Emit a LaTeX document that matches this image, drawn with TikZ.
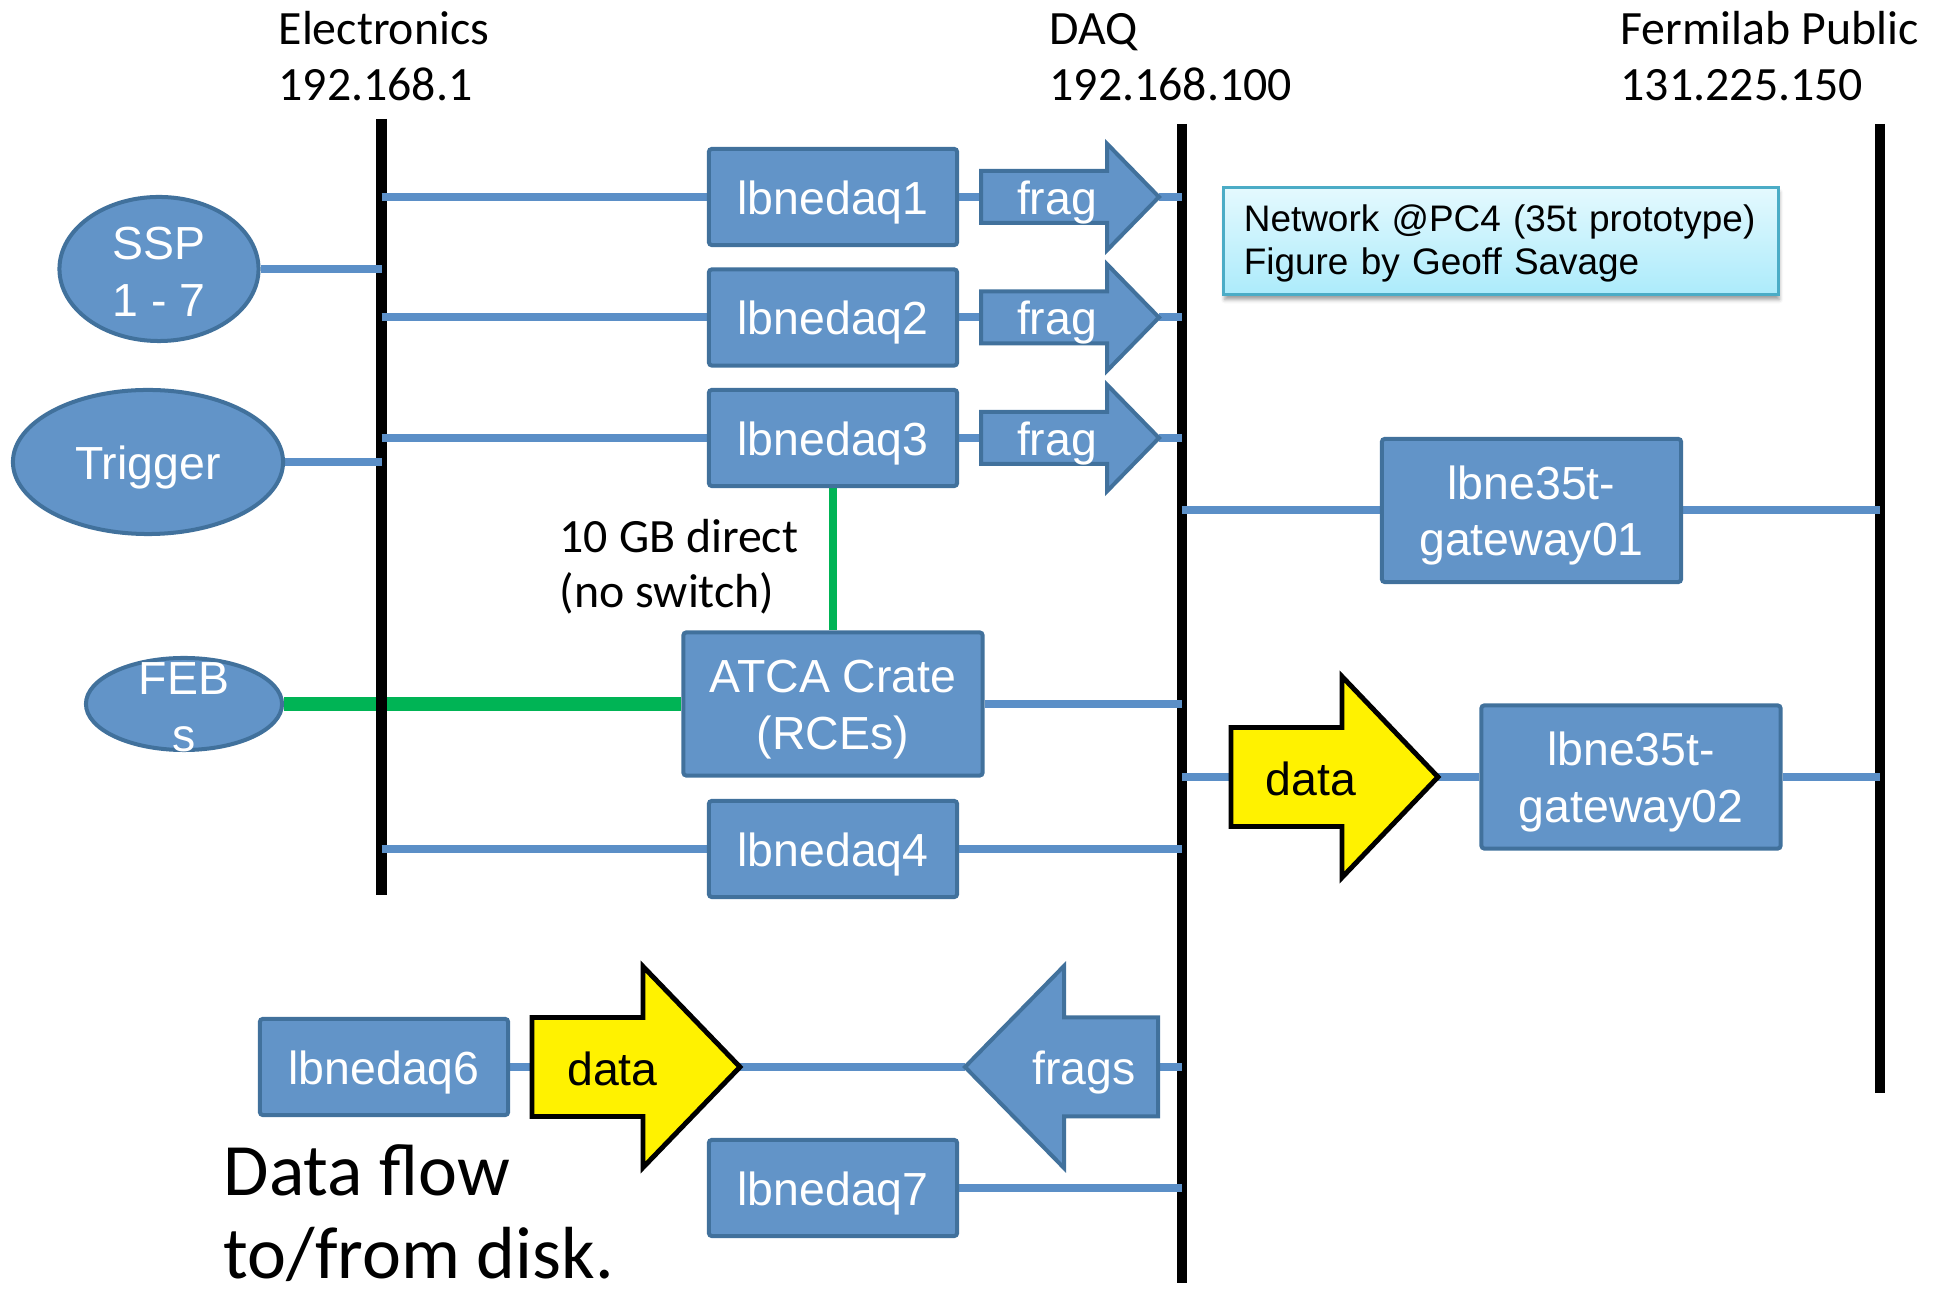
\documentclass[tikz,border=0pt]{standalone}
\usepackage{fontspec}
\setmainfont{Liberation Sans}
\newfontfamily\calfont{Carlito}
\usetikzlibrary{shapes.geometric,shadows.blur,backgrounds}
\definecolor{boxfill}{RGB}{98,148,200}
\definecolor{boxline}{RGB}{65,113,156}
\definecolor{linkblue}{RGB}{91,143,199}
\definecolor{lnkgreen}{RGB}{0,180,85}
\definecolor{notetop}{RGB}{228,249,254}
\definecolor{notebot}{RGB}{172,235,251}
\definecolor{noteline}{RGB}{75,172,198}
\newcommand{\ps}{\rule[-0.133em]{0pt}{1.083em}}
\newcommand{\pn}{\rule[-0.153em]{0pt}{1.003em}}
\newcommand{\bxfont}{\fontsize{13.2pt}{16.07pt}\selectfont}
\newcommand{\hdrfont}{\calfont\fontsize{13.6pt}{15.9pt}\selectfont}
\newcommand{\dffont}{\calfont\fontsize{21pt}{24.5pt}\selectfont}
\newcommand{\ntfont}{\fontsize{10.5pt}{12.03pt}\selectfont}
% name, tail x, y, head-base offset, tip offset, head half, body half, style
\newcommand{\blockarrow}[8]{%
  \coordinate (#1-tail) at (#2,#3);
  \coordinate (#1-tip) at ({#2+(#5)},#3);
  \draw[#8] (#2,{#3-(#7)}) -- ({#2+(#4)},{#3-(#7)}) -- ({#2+(#4)},{#3-(#6)})
    -- ({#2+(#5)},#3) -- ({#2+(#4)},{#3+(#6)}) -- ({#2+(#4)},{#3+(#7)})
    -- (#2,{#3+(#7)}) -- cycle;}
\tikzset{
  bus/.style={line width=3pt, draw=black},
  lnk/.style={line width=2.28pt, draw=linkblue},
  gthin/.style={line width=2pt, draw=lnkgreen},
  gthick/.style={line width=3.8pt, draw=lnkgreen},
  hostbox/.style={rectangle, rounded corners=0.8pt, fill=boxfill, draw=boxline,
    line width=1.14pt, inner sep=0pt, text=white, font=\bxfont, align=center},
  smallbox/.style={hostbox, minimum width=2.48cm, minimum height=0.96cm},
  bigbox/.style={hostbox, minimum width=2.99cm, minimum height=1.43cm},
  ell/.style={ellipse, fill=boxfill, draw=boxline, line width=1.14pt, inner sep=0pt},
  wlabel/.style={text=white, font=\bxfont, align=center, inner sep=0pt},
  blabel/.style={text=black, font=\bxfont, align=center, inner sep=0pt},
  farrow/.style={fill=boxfill, draw=boxline, line width=1.14pt, line join=miter},
  yarrow/.style={fill=yellow, draw=black, line width=1.4pt, line join=miter},
  hdr/.style={font=\hdrfont, anchor=base west, inner sep=0pt},
  bigtxt/.style={font=\dffont, anchor=base west, inner sep=0pt},
  notebox/.style={rectangle, top color=notetop, bottom color=notebot, draw=noteline,
    line width=0.85pt, text width=5.14cm, inner xsep=0.2cm, inner ysep=0pt,
    minimum height=1.07cm, align=left, font=\ntfont,
    blur shadow={shadow xshift=0.01cm, shadow yshift=-0.05cm, shadow blur radius=0.04cm, shadow opacity=40}}
}
\begin{document}
\begin{tikzpicture}[x=0.01cm, y=-0.01cm]
\useasboundingbox (0,0) rectangle (1944,1295);
% bus coordinates
\coordinate (E) at (381.5,119);  \coordinate (Eb) at (381.5,895);
\coordinate (D) at (1182,124);   \coordinate (Db) at (1182,1283);
\coordinate (F) at (1880,124);   \coordinate (Fb) at (1880,1093);
% headers
\node[hdr] (el1) at (278,45) {Electronics};
\node[hdr] (el2) at (278,101) {192.168.1};
\node[hdr] (dq1) at (1049,45) {DAQ};
\node[hdr] (dq2) at (1049,101) {192.168.100};
\node[hdr] (fp1) at (1620,45) {Fermilab Public};
\node[hdr] (fp2) at (1620,101) {131.225.150};
% ellipses
\node[ell, minimum width=1.99cm, minimum height=1.44cm] (ssp) at (159,269) {};
\node[wlabel] (ssp-t) at (ssp) {\ps SSP\\\ps 1 - 7};
\node[ell, minimum width=2.70cm, minimum height=1.44cm] (trig) at (148,462) {};
\node[wlabel] (trig-t) at (trig) {\ps Trigger};
\node[ell, minimum width=1.96cm, minimum height=0.92cm] (feb) at (184,704) {};
\node[wlabel] (feb-t) at (feb) {\ps FEB\\\ps s};
% host boxes
\node[smallbox] (daq1) at (833,197) {\ps lbnedaq1};
\node[smallbox] (daq2) at (833,317.5) {\ps lbnedaq2};
\node[smallbox] (daq3) at (833,438) {\ps lbnedaq3};
\node[bigbox] (atca) at (833,704) {\ps ATCA Crate\\\ps (RCEs)};
\node[smallbox] (daq4) at (833,849) {\ps lbnedaq4};
\node[bigbox] (gw1) at (1531.5,510.5) {\ps lbne35t-\\\ps gateway01};
\node[bigbox] (gw2) at (1631,777) {\ps lbne35t-\\\ps gateway02};
\node[smallbox] (daq6) at (384,1067) {\ps lbnedaq6};
\node[smallbox] (daq7) at (833,1188) {\ps lbnedaq7};
% block arrows
\blockarrow{f1}{981}{197}{126}{178}{53.3}{26}{farrow}
\blockarrow{f2}{981}{317.5}{126}{178}{53.3}{26}{farrow}
\blockarrow{f3}{981}{438}{126}{178}{53.3}{26}{farrow}
\node[wlabel] (f1-t) at (1057,197) {\ps frag};
\node[wlabel] (f2-t) at (1057,317.5) {\ps frag};
\node[wlabel] (f3-t) at (1057,438) {\ps frag};
\blockarrow{d2}{1231}{777}{111}{207}{100.5}{49.5}{yarrow}
\node[blabel] (d2-t) at (1311,777) {\ps data};
\blockarrow{d1}{532}{1067}{111}{208}{100.5}{49.5}{yarrow}
\node[blabel] (d1-t) at (612.5,1067) {\ps data};
\blockarrow{fs}{1158}{1067}{-94}{-193}{101}{49.5}{farrow}
\node[wlabel] (fs-t) at (1084,1067) {\ps frags};
% note
\node[notebox] (note) at (1501,241) {\pn Network @PC4 (35t prototype)\\\pn Figure by Geoff Savage};
% free texts
\node[hdr] (gb1) at (559,552.7) {10 GB direct};
\node[hdr] (gb2) at (559,608) {(no switch)};
\node[bigtxt] (df1) at (223,1196) {Data flow};
\node[bigtxt] (df2) at (223,1279) {to/from disk.};
% connectors
\begin{scope}[on background layer]
\draw[gthick] (feb.east) -- (atca.west);
\draw[gthin] (daq3.south) -- (atca.north);
\draw[bus] (E) -- (Eb);
\draw[bus] (D) -- (Db);
\draw[bus] (F) -- (Fb);
\draw[lnk] (ssp.east) -- (ssp.east -| E);
\draw[lnk] (trig.east) -- (trig.east -| E);
\draw[lnk] (daq1.west -| E) -- (daq1.west);
\draw[lnk] (daq2.west -| E) -- (daq2.west);
\draw[lnk] (daq3.west -| E) -- (daq3.west);
\draw[lnk] (daq4.west -| E) -- (daq4.west);
\draw[lnk] (daq1.east) -- (f1-tail);
\draw[lnk] (daq2.east) -- (f2-tail);
\draw[lnk] (daq3.east) -- (f3-tail);
\draw[lnk] (f1-tip) -- (f1-tip -| D);
\draw[lnk] (f2-tip) -- (f2-tip -| D);
\draw[lnk] (f3-tip) -- (f3-tip -| D);
\draw[lnk] (atca.east) -- (atca.east -| D);
\draw[lnk] (daq4.east) -- (daq4.east -| D);
\draw[lnk] (gw1.west -| D) -- (gw1.west);
\draw[lnk] (gw1.east) -- (gw1.east -| F);
\draw[lnk] (d2-tail -| D) -- (d2-tail);
\draw[lnk] (d2-tip) -- (gw2.west);
\draw[lnk] (gw2.east) -- (gw2.east -| F);
\draw[lnk] (daq6.east) -- (d1-tail);
\draw[lnk] (d1-tip) -- (fs-tip);
\draw[lnk] (fs-tail) -- (fs-tail -| D);
\draw[lnk] (daq7.east) -- (daq7.east -| D);
\end{scope}
\end{tikzpicture}
\end{document}
